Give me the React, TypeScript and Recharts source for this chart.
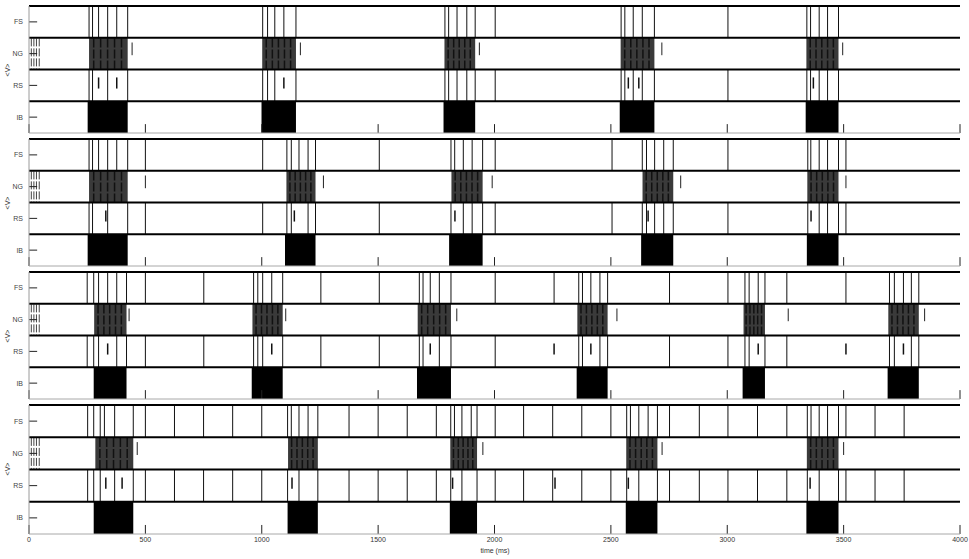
import React from 'react';
import { ComposedChart, XAxis, YAxis, ReferenceLine, ReferenceArea } from 'recharts';

const rowNames = ['FS', 'NG', 'RS', 'IB'];
const rowTicks = [0.5, 1.5, 2.5, 3.5];
const xTicks = [0, 500, 1000, 1500, 2000, 2500, 3000, 3500, 4000];
const ngStart = [10, 21, 32, 44];

// Panel 1
const ib1: [number, number][] = [[252, 424], [999, 1147], [1781, 1917], [2538, 2687], [3337, 3478]];
const ng1: [number, number][] = [[258, 424], [1002, 1147], [1785, 1917], [2542, 2687], [3340, 3478]];
const fs1 = [258, 273, 299, 338, 377, 424, 1004, 1025, 1056, 1095, 1147, 1787, 1803, 1839, 1881, 1917, 2003, 2544, 2560, 2596, 2635, 2687, 3003, 3342, 3358, 3395, 3431, 3478];
const rs1 = [258, 273, 338, 424, 1004, 1025, 1056, 1147, 1787, 1803, 1839, 1881, 1917, 2003, 2544, 2560, 2596, 2635, 2687, 3003, 3342, 3358, 3395, 3431, 3478];
const rsShort1 = [299, 377, 1095, 2575, 2620, 3370];
const ngShort1 = [443, 1166, 1935, 2719, 3496];

// Panel 2
const ib2: [number, number][] = [[252, 424], [1100, 1231], [1805, 1949], [2630, 2768], [3342, 3478]];
const ng2: [number, number][] = [[258, 424], [1106, 1231], [1815, 1949], [2636, 2768], [3344, 3478]];
const fs2 = [258, 273, 299, 338, 377, 424, 500, 1004, 1108, 1127, 1160, 1199, 1231, 1505, 1813, 1829, 1866, 1904, 1949, 2003, 2505, 2635, 2653, 2688, 2727, 2768, 3003, 3346, 3359, 3395, 3431, 3478, 3510];
const rs2 = [258, 273, 338, 424, 500, 1004, 1108, 1127, 1199, 1231, 1505, 1813, 1866, 1904, 1949, 2003, 2505, 2635, 2653, 2688, 2727, 2768, 3003, 3346, 3395, 3431, 3478, 3510];
const rsShort2 = [330, 1140, 1830, 2660, 3360];
const ngShort2 = [500, 1265, 1990, 2800, 3510];

// Panel 3
const ib3: [number, number][] = [[278, 419], [957, 1090], [1667, 1813], [2353, 2486], [3066, 3162], [3689, 3823]];
const ng3: [number, number][] = [[280, 419], [960, 1090], [1670, 1813], [2356, 2486], [3070, 3162], [3692, 3823]];
const fs3 = [250, 278, 299, 338, 377, 419, 500, 751, 965, 983, 1004, 1043, 1090, 1254, 1505, 1677, 1693, 1724, 1763, 1813, 2003, 2256, 2362, 2378, 2414, 2453, 2486, 2752, 3003, 3076, 3094, 3133, 3162, 3256, 3510, 3697, 3718, 3757, 3791, 3823];
const rs3 = [250, 278, 299, 377, 419, 500, 751, 965, 983, 1004, 1090, 1254, 1505, 1677, 1693, 1763, 1813, 2003, 2362, 2378, 2453, 2486, 2752, 3003, 3076, 3094, 3162, 3256, 3697, 3718, 3791, 3823];
const rsShort3 = [338, 1043, 1724, 2256, 2414, 3133, 3510, 3757];
const ngShort3 = [430, 1103, 1838, 2526, 3262, 3848];

// Panel 4
const ib4: [number, number][] = [[278, 448], [1111, 1241], [1808, 1925], [2564, 2700], [3340, 3478]];
const ng4: [number, number][] = [[285, 448], [1113, 1241], [1810, 1925], [2566, 2700], [3342, 3478]];
const fs4 = [252, 278, 306, 324, 368, 448, 500, 625, 750, 875, 1000, 1111, 1127, 1160, 1199, 1241, 1375, 1500, 1625, 1750, 1812, 1828, 1860, 1900, 1925, 2003, 2125, 2250, 2375, 2500, 2568, 2584, 2620, 2660, 2700, 2752, 2880, 3003, 3130, 3256, 3344, 3360, 3395, 3431, 3478, 3510, 3635, 3760];
const rs4 = [252, 278, 306, 368, 448, 500, 625, 750, 875, 1000, 1111, 1160, 1241, 1375, 1500, 1625, 1750, 1812, 1860, 1925, 2003, 2125, 2250, 2375, 2500, 2568, 2620, 2700, 2752, 2880, 3003, 3130, 3256, 3344, 3395, 3478, 3510, 3635, 3760];
const rsShort4 = [330, 400, 1130, 1820, 2260, 2575, 3356];
const ngShort4 = [465, 1950, 2720, 3500];

type Panel = {
  ib: [number, number][];
  ng: [number, number][];
  fs: number[];
  rs: number[];
  rsShort: number[];
  ngShort: number[];
};

const panels: Panel[] = [
  { ib: ib1, ng: ng1, fs: fs1, rs: rs1, rsShort: rsShort1, ngShort: ngShort1 },
  { ib: ib2, ng: ng2, fs: fs2, rs: rs2, rsShort: rsShort2, ngShort: ngShort2 },
  { ib: ib3, ng: ng3, fs: fs3, rs: rs3, rsShort: rsShort3, ngShort: ngShort3 },
  { ib: ib4, ng: ng4, fs: fs4, rs: rs4, rsShort: rsShort4, ngShort: ngShort4 },
];

const panelTops = [6, 139, 272, 405];
const PANEL_H = 127;
const FONT = '"Liberation Sans", Arial, Helvetica, sans-serif';
const chartData = xTicks.map((t) => ({ t }));
const ngTexture = [0.12, 0.3, 0.48, 0.66, 0.84];

function spike(key: string, t: number, y1: number, y2: number, color = '#111', w = 1, dash?: string) {
  return (
    <ReferenceLine
      key={key}
      segment={[{ x: t, y: y1 }, { x: t, y: y2 }]}
      stroke={color}
      strokeWidth={w}
      strokeDasharray={dash}
      ifOverflow="extendDomain"
    />
  );
}

function PanelChart({ p, idx }: { p: Panel; idx: number }) {
  const last = idx === 3;
  const xH = last ? 20 : 0;
  const h = PANEL_H + 2 + 2 + xH;
  return (
    <div style={{ position: 'absolute', left: 0, top: panelTops[idx] - 2 }}>
      <ComposedChart
        width={969}
        height={h}
        data={chartData}
        margin={{ top: 2, right: 9, bottom: last ? 0 : 2, left: 0 }}
      >
        <XAxis
          dataKey="t"
          type="number"
          domain={[0, 4000]}
          ticks={xTicks}
          allowDataOverflow
          hide={!last}
          height={xH || 1}
          axisLine={false}
          tickLine={false}
          tickSize={0}
          tickMargin={3}
          interval={0}
          tick={{ fontSize: 7, fill: '#333', fontFamily: FONT }}
        />
        <YAxis
          type="number"
          domain={[0, 4]}
          reversed
          ticks={rowTicks}
          interval={0}
          tickFormatter={(v: number) => rowNames[Math.floor(v)]}
          width={29}
          tickLine={false}
          tickSize={6}
          tickMargin={0}
          axisLine={{ stroke: '#9a9a9a', strokeWidth: 1 }}
          tick={{ fontSize: 7, fill: '#444', fontFamily: FONT }}
          allowDataOverflow
        />
        {p.ib.map(([a, b], i) => (
          <ReferenceArea key={'ib' + i} x1={a} x2={b} y1={3} y2={4} fill="#000" fillOpacity={1} stroke="none" />
        ))}
        {p.ng.map(([a, b], i) => (
          <ReferenceArea key={'ng' + i} x1={a} x2={b} y1={1} y2={2} fill="#3a3a3a" fillOpacity={1} stroke="none" />
        ))}
        {p.ng.map(([a, b], i) =>
          ngTexture.map((f, j) =>
            spike('ngt' + i + '_' + j, a + (b - a) * f, 1.02, 1.98, '#111', 1.5, '9 2')
          )
        )}
        {ngStart.map((t, i) => spike('ngs' + i, t, 1.02, 1.98, '#444', 1, '8 2'))}
        {p.ngShort.map((t, i) => spike('ngsh' + i, t, 1.15, 1.55, '#222', 1))}
        {p.fs.map((t, i) => spike('fs' + i, t, 0, 1))}
        {p.rs.map((t, i) => spike('rs' + i, t, 2, 3))}
        {p.rsShort.map((t, i) => spike('rss' + i, t, 2.25, 2.6, '#111', 1.5))}
        {rowTicks.map((r, i) => (
          <ReferenceLine key={'yt' + i} segment={[{ x: 0, y: r }, { x: 35, y: r }]} stroke="#222" strokeWidth={1} />
        ))}
        {xTicks.map((t, i) => (
          <ReferenceLine key={'xt' + i} segment={[{ x: t, y: 4 }, { x: t, y: 3.72 }]} stroke="#222" strokeWidth={1} />
        ))}
        {[0, 1, 2, 3].map((r) => (
          <ReferenceLine key={'row' + r} y={r} stroke="#000" strokeWidth={2} />
        ))}
        <ReferenceLine y={4} stroke="#a8a8a8" strokeWidth={1} />
      </ComposedChart>
    </div>
  );
}

export default function App() {
  return (
    <div style={{ position: 'absolute', left: 0, top: 0, width: 969, height: 559, background: '#fff', fontFamily: FONT }}>
      {panels.map((p, i) => (
        <PanelChart key={i} p={p} idx={i} />
      ))}
      {panelTops.map((top, i) => (
        <div
          key={'vl' + i}
          style={{
            position: 'absolute',
            left: -2,
            top: top + PANEL_H / 2 - 4,
            width: 20,
            textAlign: 'center',
            fontSize: 7,
            lineHeight: '8px',
            color: '#333',
            transform: 'rotate(-90deg)',
          }}
        >
          {'<V>'}
        </div>
      ))}
      <div
        style={{
          position: 'absolute',
          left: 445,
          width: 100,
          top: 546,
          textAlign: 'center',
          fontSize: 7,
          lineHeight: '9px',
          color: '#333',
        }}
      >
        time (ms)
      </div>
    </div>
  );
}
